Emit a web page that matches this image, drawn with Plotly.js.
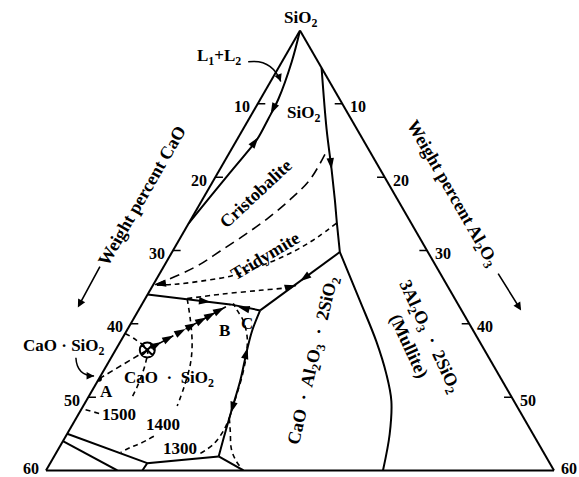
<!DOCTYPE html>
<html>
<head>
<meta charset="utf-8">
<script src="https://cdn.plot.ly/plotly-3.0.1.min.js"></script>
<style>
html, body { margin: 0; padding: 0; background: #ffffff; }
#chart { width: 579px; height: 477px; }
</style>
</head>
<body>
<div id="chart"></div>
<script>
// ===== Data: compositions in weight percent (CaO, Al2O3); SiO2 = 100 - CaO - Al2O3 =====
const tickVals = [10, 20, 30, 40, 50];
const tickText = ['10', '20', '30', '40', '50'];
const cornerText = '60';

// solid boundary curves
const immiscCaO = [0, 3.10, 7.22, 9.81, 12.47, 14.58, 17.92, 21.92, 26.3];
const immiscAl  = [0, 1.15, 2.12, 2.28, 2.36, 2.04, 1.44, 0.74, 0];
const silicaMulliteCaO = [0, 3.59, 5.74, 7.42, 8.76, 10.40];
const silicaMulliteAl  = [5.1, 9.87, 13.20, 15.65, 17.47, 19.81];
const mulliteAnorthiteCaO = [10.40, 11.34, 12.19, 13.23, 14.47, 16.94, 20.2];
const mulliteAnorthiteAl  = [19.81, 25.46, 30.24, 33.63, 36.05, 38.12, 39.8];
const tridAnorthiteCaO = [10.40, 23.79];
const tridAnorthiteAl  = [19.81, 14.38];
const tridWollCaO = [36.0, 26.91, 23.79];
const tridWollAl  = [0, 10.44, 14.38];
const wollAnorthiteCaO = [23.79, 26.10, 28.10, 30.95, 33.74, 36.83, 38.65];
const wollAnorthiteAl  = [14.38, 14.81, 15.56, 16.83, 17.74, 18.78, 19.43];
const lowerJCaO = [38.65, 47.54, 48.62];
const lowerJAl  = [19.43, 11.46, 11.38];
const lowerEdge1CaO = [55.0, 47.54];
const lowerEdge1Al  = [0, 11.46];
const lowerEdge2CaO = [56.0, 51.57];
const lowerEdge2Al  = [0, 8.43];
const lowerJBotCaO = [38.65, 36.67];
const lowerJBotAl  = [19.43, 23.33];

// dashed lines
const inversionCaO = [5.50, 8.98, 12.71, 16.72, 20.71, 24.45, 27.69, 30.73, 34.8];
const inversionAl  = [11.39, 11.34, 10.36, 8.96, 7.30, 5.62, 4.16, 2.50, 0];
const tridLowCaO = [8.81, 11.96, 14.83, 17.87, 20.77, 23.60, 25.42, 28.86, 32.01, 34.66];
const tridLowAl  = [17.45, 16.19, 14.83, 13.16, 11.36, 9.49, 8.18, 5.33, 2.59, 0.07];
const tridIsoCaO = [31.61, 27.40, 22.42, 18.68, 17.84];
const tridIsoAl  = [4.95, 8.57, 13.01, 16.33, 16.90];
const iso1500aCaO = [41.32, 40.49, 39.82, 40.69, 41.93, 43.67, 44.94];
const iso1500aAl  = [0, 1.66, 3.75, 4.34, 4.75, 5.08, 5.17];
const iso1500bCaO = [49.84, 51.46];
const iso1500bAl  = [2.38, 0.16];
const iso1400aCaO = [31.61, 32.71, 34.09, 35.66, 38.10, 40.11];
const iso1400aAl  = [4.95, 6.83, 8.61, 9.78, 10.64, 11.10];
const iso1400bCaO = [44.93, 46.97, 48.42, 49.94];
const iso1400bAl  = [10.41, 9.32, 8.42, 7.59];
const iso1300aCaO = [40.60, 38.45, 36.38, 34.78];
const iso1300aAl  = [17.07, 17.98, 18.26, 18.08];
const iso1300bCaO = [34.78, 35.56, 36.61, 36.89, 36.76];
const iso1300bAl  = [18.08, 19.09, 20.37, 21.60, 23.11];
const iso1300cCaO = [34.78, 32.45, 30.37, 28.53, 27.17, 26.48, 26.50, 26.49];
const iso1300cAl  = [18.08, 17.39, 16.72, 15.82, 14.70, 13.07, 11.67, 10.72];

// crystallization path A -> X -> B
const pathCaO = [47.5, 39.82, 26.91];
const pathAl  = [0, 3.75, 10.44];
const pathArrowCaO = [37.60, 35.74, 33.88, 32.18, 30.62, 29.23, 27.83];
const pathArrowAl  = [4.89, 5.86, 6.83, 7.71, 8.51, 9.23, 9.95];

// direction arrows on boundaries (tail -> head)
const arrowTailCaO = [7.89, 13.45, 5.20, 30.20, 25.34, 15.75, 28.71, 33.22, 33.11, 18.93];
const arrowTailAl  = [2.13, 2.20, 12.38, 6.67, 12.63, 17.64, 15.77, 17.58, 1.35, 16.11];
const arrowHeadCaO = [9.16, 12.21, 5.74, 29.10, 26.15, 17.09, 27.80, 34.26, 34.51, 17.84];
const arrowHeadAl  = [2.24, 2.35, 13.20, 7.93, 11.56, 17.09, 15.45, 17.91, 0.16, 16.90];

// horizontal labels
const labelText = ['SiO<sub>2</sub>', 'SiO<sub>2</sub>', 'L<sub>1</sub>+L<sub>2</sub>', 'CaO · SiO<sub>2</sub>',
  'A', 'B', 'C', 'CaO  ·  SiO<sub>2</sub>', '1500', '1400', '1300'];
const labelCaO = [-0.755, 5.25, 11.32, 49.44, 47.47, 29.40, 26.21, 39.28, 47.60, 43.08, 42.61];
const labelAl  = [-0.755, 6.08, -7.75, -6.33, 1.82, 11.52, 13.74, 8.22, 4.78, 10.61, 14.37];

// rotated labels
const rotText = ['Cristobalite', 'Tridymite', 'CaO  ·  Al<sub>2</sub>O<sub>3</sub>  ·  2SiO<sub>2</sub>',
  '3Al<sub>2</sub>O<sub>3</sub>  ·  2SiO<sub>2</sub><br>(Mullite)', 'Weight percent CaO', 'Weight percent Al<sub>2</sub>O<sub>3</sub>'];
const rotCaO = [16.42, 19.50, 20.87, 7.03, 29.97, -6.76];
const rotAl  = [5.83, 11.26, 24.16, 35.26, -7.45, 29.00];
const rotAngle = [-43, -31, -77, 65, -60, 60];

// ===== Geometry (same rules Plotly uses to size the ternary triangle) =====
const W = 579, H = 477;
const M = {l: 46, r: 25, t: 26, b: 2};
const gsW = W - M.l - M.r, gsH = H - M.t - M.b;
const wOverH = 2 / Math.sqrt(3);
let triW, triH;
if (gsW > wOverH * gsH) { triH = gsH; triW = triH * wOverH; } else { triW = gsW; triH = triW / wOverH; }
const X0 = M.l + gsW / 2 - triW / 2, Y0 = M.t + gsH / 2 - triH / 2;
const SPAN = 60;
function toPx(cao, al) {
  return [X0 + triW / 2 + (triW / 2) * (al - cao) / SPAN, Y0 + triH * (cao + al) / SPAN];
}
function toPaper(cao, al) {
  const p = toPx(cao, al);
  return [(p[0] - M.l) / gsW, 1 - (p[1] - M.t) / gsH];
}

const FONT = '"Liberation Serif", "Times New Roman", serif';

function tr(cao, al, extra) {
  return Object.assign({
    type: 'scatterternary',
    a: cao.map((v, i) => (v === null ? null : 100 - v - al[i])),
    b: cao, c: al,
    hoverinfo: 'skip', showlegend: false
  }, extra);
}
const solid = {mode: 'lines', line: {color: 'black', width: 2}};
const solidSpline = {mode: 'lines', line: {color: 'black', width: 2, shape: 'spline', smoothing: 1}};
function dashed(d, spline) {
  return {mode: 'lines', line: {color: 'black', width: 1.6, dash: d, shape: spline ? 'spline' : 'linear', smoothing: 1}};
}

const traces = [];
traces.push(tr(immiscCaO, immiscAl, solidSpline));
traces.push(tr(silicaMulliteCaO, silicaMulliteAl, solidSpline));
traces.push(tr(mulliteAnorthiteCaO, mulliteAnorthiteAl, solidSpline));
traces.push(tr(tridAnorthiteCaO, tridAnorthiteAl, solid));
traces.push(tr(tridWollCaO, tridWollAl, solid));
traces.push(tr(wollAnorthiteCaO, wollAnorthiteAl, solidSpline));
traces.push(tr(lowerJCaO, lowerJAl, solid));
traces.push(tr(lowerEdge1CaO, lowerEdge1Al, solid));
traces.push(tr(lowerEdge2CaO, lowerEdge2Al, solid));
traces.push(tr(lowerJBotCaO, lowerJBotAl, solid));

traces.push(tr(inversionCaO, inversionAl, dashed('10px,6px', true)));
traces.push(tr(tridLowCaO, tridLowAl, dashed('5px,4px', true)));
traces.push(tr(tridIsoCaO, tridIsoAl, dashed('5px,4px', true)));
[[iso1500aCaO, iso1500aAl], [iso1500bCaO, iso1500bAl], [iso1400aCaO, iso1400aAl], [iso1400bCaO, iso1400bAl],
 [iso1300aCaO, iso1300aAl], [iso1300bCaO, iso1300bAl], [iso1300cCaO, iso1300cAl]].forEach(p => {
  traces.push(tr(p[0], p[1], dashed('5px,4px', true)));
});
traces.push(tr(pathCaO, pathAl, dashed('6px,4px', false)));

// tick marks (short horizontal strokes at constant SiO2)
const tkC = [], tkA = [];
tickVals.forEach(v => { tkC.push(v, v - 0.9, null); tkA.push(0, 0.9, null); });
tickVals.forEach(v => { tkC.push(0, 0.9, null); tkA.push(v, v - 0.9, null); });
traces.push(tr(tkC, tkA, {mode: 'lines', line: {color: 'black', width: 1.5}, connectgaps: false}));

// arrowheads
function angleOf(tc, ta, hc, ha) {
  const t = toPx(tc, ta), h = toPx(hc, ha);
  return Math.atan2(h[0] - t[0], -(h[1] - t[1])) * 180 / Math.PI;
}
const arrowAngles = arrowHeadCaO.map((v, i) => angleOf(arrowTailCaO[i], arrowTailAl[i], v, arrowHeadAl[i]));
traces.push(tr(arrowHeadCaO, arrowHeadAl, {mode: 'markers',
  marker: {symbol: 'arrow', size: 12, color: 'black', angle: arrowAngles, line: {width: 0}}}));
const pathAngle = angleOf(pathCaO[1], pathAl[1], pathCaO[2], pathAl[2]);
traces.push(tr(pathArrowCaO, pathArrowAl, {mode: 'markers',
  marker: {symbol: 'arrow', size: 12, color: 'black', angle: pathArrowCaO.map(() => pathAngle), line: {width: 0}}}));

// composition points A and X
traces.push(tr([pathCaO[0]], [pathAl[0]], {mode: 'markers', marker: {symbol: 'circle', size: 6, color: 'black'}}));
traces.push(tr([pathCaO[1]], [pathAl[1]], {mode: 'markers', marker: {symbol: 'circle-x-open', size: 15, color: 'black', line: {width: 2, color: 'black'}}}));

// ===== Text (annotations placed from compositions) =====
const annotations = [];
function textAnn(cao, al, text, size, angle) {
  const p = toPaper(cao, al);
  return {xref: 'paper', yref: 'paper', x: p[0], y: p[1], text: text, textangle: angle || 0, showarrow: false,
    xanchor: 'center', yanchor: 'middle', borderpad: 0,
    font: {family: FONT, size: size, color: 'black', weight: 'bold'}};
}
tickVals.forEach((v, i) => {
  annotations.push(textAnn(v + 2.1, -1.7, tickText[i], 16));
  annotations.push(textAnn(-1.7, v + 2.1, tickText[i], 16));
});
annotations.push(textAnn(61.6, -1.93, cornerText, 16));
annotations.push(textAnn(-1.93, 61.6, cornerText, 16));
labelText.forEach((t, i) => annotations.push(textAnn(labelCaO[i], labelAl[i], t, 17)));
rotText.forEach((t, i) => annotations.push(textAnn(rotCaO[i], rotAl[i], t, 18, rotAngle[i])));

function arrowAnn(tail, head, style) {
  const hp = toPx(head[0], head[1]), tp = toPx(tail[0], tail[1]);
  const p = toPaper(head[0], head[1]);
  return {xref: 'paper', yref: 'paper', x: p[0], y: p[1], ax: tp[0] - hp[0], ay: tp[1] - hp[1],
    axref: 'pixel', ayref: 'pixel', text: '', showarrow: true, arrowhead: style, arrowsize: 1,
    arrowwidth: 1.6, arrowcolor: 'black', standoff: 0};
}
const axisArrowTail = [[39.53, -7.54], [-6.82, 39.77]];
const axisArrowHead = [[45.12, -7.36], [-7.03, 45.20]];
axisArrowTail.forEach((t, i) => annotations.push(arrowAnn(t, axisArrowHead[i], 2)));

// curved pointer arrows (L1+L2 and CaO.SiO2 -> A)
const curveTail = [[8.25, -3.99], [48.78, -4.16]];
const curveCtrl = [[5.22, -1.37], [49.90, -2.81]];
const curveHead = [[5.75, 1.21], [47.87, -0.77]];
const shapes = [];
curveTail.forEach((t, i) => {
  const p0 = toPaper(t[0], t[1]), pc = toPaper(curveCtrl[i][0], curveCtrl[i][1]), p1 = toPaper(curveHead[i][0], curveHead[i][1]);
  shapes.push({type: 'path', xref: 'paper', yref: 'paper',
    path: `M ${p0[0]},${p0[1]} Q ${pc[0]},${pc[1]} ${p1[0]},${p1[1]}`, line: {color: 'black', width: 1.5}});
  const hp = toPx(curveHead[i][0], curveHead[i][1]), cp = toPx(curveCtrl[i][0], curveCtrl[i][1]);
  const dx = hp[0] - cp[0], dy = hp[1] - cp[1], len = Math.hypot(dx, dy);
  annotations.push({xref: 'paper', yref: 'paper', x: p1[0], y: p1[1], ax: -dx / len * 8, ay: -dy / len * 8,
    text: '', showarrow: true, arrowhead: 2, arrowsize: 1, arrowwidth: 1.5, arrowcolor: 'black', standoff: 0});
});

const axisStyle = {showline: true, linecolor: 'black', linewidth: 2, showgrid: false, showticklabels: false,
  ticks: '', title: {text: ''}};
const layout = {
  width: W, height: H, margin: M,
  paper_bgcolor: 'white', plot_bgcolor: 'white',
  showlegend: false, hovermode: false,
  ternary: {
    sum: 100, bgcolor: 'white', domain: {x: [0, 1], y: [0, 1]},
    aaxis: Object.assign({min: 40}, axisStyle),
    baxis: Object.assign({min: 0}, axisStyle),
    caxis: Object.assign({min: 0}, axisStyle)
  },
  annotations: annotations,
  shapes: shapes
};
Plotly.newPlot('chart', traces, layout, {displayModeBar: false, staticPlot: true});
</script>
</body>
</html>
